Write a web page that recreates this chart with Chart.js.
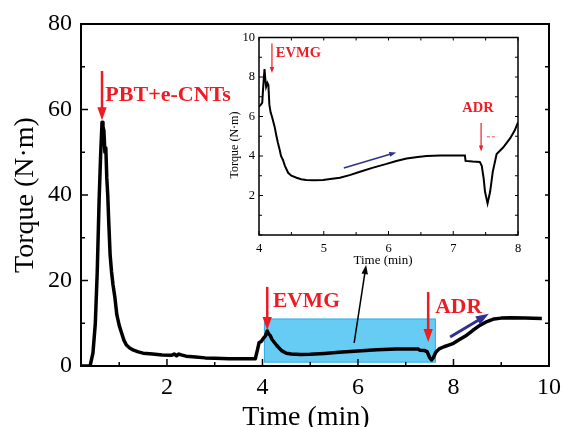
<!DOCTYPE html>
<html>
<head>
<meta charset="utf-8">
<script src="https://cdn.jsdelivr.net/npm/chart.js@4.4.1/dist/chart.umd.min.js"></script>
<style>
  html, body { margin: 0; padding: 0; background: #fff; }
  #wrap { position: relative; width: 568px; height: 427px; }
  #mainChart { position: absolute; left: 0; top: 0; }
  #insetChart { position: absolute; left: 215px; top: 26px; }
</style>
</head>
<body>
<div id="wrap">
  <canvas id="mainChart" width="568" height="427"></canvas>
  <canvas id="insetChart" width="315" height="252"></canvas>
</div>
<script>
const serif = '"Liberation Serif", "Times New Roman", serif';
const red = '#ED1C24';
const navy = '#2E3192';

// main torque curve
const mainTime = [0.2, 0.39, 0.45, 0.5, 0.54, 0.58, 0.61, 0.64, 0.66, 0.68, 0.7, 0.72, 0.74, 0.76, 0.78, 0.81,
  0.84, 0.87, 0.91, 0.95, 1.0, 1.05, 1.1, 1.15, 1.22, 1.3, 1.4, 1.5, 1.7, 1.9, 2.1, 2.15, 2.2, 2.25, 2.3, 2.4,
  2.6, 2.8, 3.0, 3.3, 3.6, 3.85, 3.9, 3.93, 3.97, 4.02, 4.06, 4.1, 4.13, 4.16, 4.2, 4.3, 4.4, 4.5, 4.6, 4.8,
  5.0, 5.3, 5.6, 6.0, 6.4, 6.8, 7.1, 7.25, 7.3, 7.4, 7.45, 7.5, 7.54, 7.58, 7.63, 7.7, 7.8, 7.9, 8.0, 8.1,
  8.25, 8.4, 8.55, 8.7, 8.85, 9.0, 9.2, 9.5, 9.85];
const mainTorque = [0, 0, 3, 10, 22, 39, 49, 57, 56, 55, 50, 51, 44, 40, 34, 26,
  22, 19, 16, 12, 9.5, 7.7, 6, 4.9, 4.2, 3.7, 3.3, 3.0, 2.8, 2.6, 2.5, 2.8, 2.4, 2.8, 2.6, 2.3,
  2.1, 1.9, 1.8, 1.7, 1.7, 1.7, 4.0, 5.5, 5.7, 6.5, 7.0, 8.2, 7.5, 7.2, 6.2, 4.8, 3.6, 3.0, 2.8, 2.7,
  2.75, 2.95, 3.2, 3.5, 3.8, 3.95, 4.0, 4.0, 3.7, 3.6, 3.3, 2.0, 1.4, 2.0, 3.2, 4.0, 4.5, 4.9, 5.3, 6.0,
  7.0, 8.3, 9.5, 10.4, 11.0, 11.2, 11.3, 11.2, 11.1];
const mainXTicks = [1, 2, 3, 4, 5, 6, 7, 8, 9, 10];
const mainYTicks = [0, 10, 20, 30, 40, 50, 60, 70, 80];

// inset: zoom on the EVMG / ADR stage
const insetTime = [4.0, 4.03, 4.05, 4.065, 4.085, 4.1, 4.11, 4.13, 4.145, 4.16, 4.18, 4.2, 4.24, 4.27, 4.29,
  4.32, 4.34, 4.37, 4.4, 4.45, 4.5, 4.58, 4.65, 4.73, 4.85, 4.99, 5.1, 5.25, 5.4, 5.56, 5.75, 5.97, 6.12,
  6.28, 6.45, 6.59, 6.8, 7.0, 7.18, 7.19, 7.3, 7.41, 7.44, 7.47, 7.49, 7.53, 7.57, 7.61, 7.67, 7.77, 7.88,
  7.95, 8.0];
const insetTorque = [6.5, 6.6, 6.7, 7.5, 8.4, 7.8, 7.5, 7.7, 7.6, 6.6, 6.2, 6.0, 5.5, 5.0, 4.7,
  4.3, 4.0, 3.8, 3.5, 3.15, 3.0, 2.9, 2.82, 2.78, 2.77, 2.78, 2.83, 2.9, 3.03, 3.2, 3.4, 3.6, 3.75,
  3.87, 3.95, 4.0, 4.02, 4.03, 4.03, 3.75, 3.72, 3.7, 3.5, 2.85, 2.2, 1.6, 2.2, 3.2, 4.1, 4.43, 4.9,
  5.3, 5.7];
const insetXTicks = [4, 4.5, 5, 5.5, 6, 6.5, 7, 7.5, 8];
const insetYTicks = [0, 1, 2, 3, 4, 5, 6, 7, 8, 9, 10];

// annotations, in data units
const mainBox = {x0: 4.04, x1: 7.62, y0: 0.9, y1: 11};
const mainArrows = [
  {from: [0.64, 69], to: [0.64, 57.5], color: red, width: 2.5, head: 13},
  {from: [4.1, 18.5], to: [4.1, 8.4], color: red, width: 2.5, head: 13},
  {from: [7.47, 17.3], to: [7.47, 5.6], color: red, width: 2.5, head: 13},
  {from: [7.93, 6.8], to: [8.74, 12.2], color: navy, width: 3, head: 13},
  {from: [5.92, 5.4], to: [6.17, 23.6], color: '#000', width: 1.5, head: 9}
];
const mainNotes = [
  {at: [0.71, 63.4], text: 'PBT+e-CNTs', size: 22},
  {at: [4.22, 15], text: 'EVMG', size: 21.5},
  {at: [7.62, 13.8], text: 'ADR', size: 21.5}
];
const insetArrows = [
  {from: [4.2, 9.7], to: [4.2, 8.2], color: red, width: 1.2, head: 6},
  {from: [7.43, 5.67], to: [7.43, 4.23], color: red, width: 1.2, head: 6},
  {from: [5.31, 3.39], to: [6.12, 4.18], color: navy, width: 1.6, head: 7},
  {from: [7.52, 4.97], to: [7.68, 4.97], color: red, width: 0.8, head: 0, dash: [3, 2]}
];
const insetNotes = [
  {at: [4.26, 9.2], text: 'EVMG', size: 14.5},
  {at: [7.14, 6.4], text: 'ADR', size: 14.5}
];

function toXY(xs, ys) {
  return xs.map((t, i) => ({x: t, y: ys[i]}));
}

function drawArrow(ctx, x1, y1, x2, y2, a) {
  const ang = Math.atan2(y2 - y1, x2 - x1);
  const head = a.head || 0;
  ctx.save();
  ctx.strokeStyle = a.color;
  ctx.fillStyle = a.color;
  ctx.lineWidth = a.width;
  if (a.dash) ctx.setLineDash(a.dash);
  ctx.beginPath();
  ctx.moveTo(x1, y1);
  ctx.lineTo(x2 - Math.cos(ang) * head * 0.8, y2 - Math.sin(ang) * head * 0.8);
  ctx.stroke();
  if (head > 0) {
    const hw = head * 0.36;
    const bx = x2 - Math.cos(ang) * head, by = y2 - Math.sin(ang) * head;
    ctx.beginPath();
    ctx.moveTo(x2, y2);
    ctx.lineTo(bx + Math.sin(ang) * hw, by - Math.cos(ang) * hw);
    ctx.lineTo(bx - Math.sin(ang) * hw, by + Math.cos(ang) * hw);
    ctx.closePath();
    ctx.fill();
  }
  ctx.restore();
}

// box, arrows, red labels
const notesPlugin = {
  id: 'notes',
  beforeDatasetsDraw(chart, args, o) {
    if (!o.box) return;
    const {ctx, scales: {x, y}} = chart;
    const l = x.getPixelForValue(o.box.x0), r = x.getPixelForValue(o.box.x1);
    const t = y.getPixelForValue(o.box.y1), b = y.getPixelForValue(o.box.y0);
    ctx.save();
    ctx.fillStyle = '#66CCF3';
    ctx.fillRect(l, t, r - l, b - t);
    ctx.strokeStyle = '#29ABE2';
    ctx.lineWidth = 1;
    ctx.strokeRect(l, t, r - l, b - t);
    ctx.restore();
  },
  afterDatasetsDraw(chart, args, o) {
    const {ctx, scales: {x, y}} = chart;
    (o.arrows || []).forEach(a => {
      drawArrow(ctx, x.getPixelForValue(a.from[0]), y.getPixelForValue(a.from[1]),
        x.getPixelForValue(a.to[0]), y.getPixelForValue(a.to[1]), a);
    });
    ctx.save();
    ctx.fillStyle = red;
    ctx.textAlign = 'left';
    ctx.textBaseline = 'middle';
    (o.notes || []).forEach(n => {
      ctx.font = 'bold ' + n.size + 'px ' + serif;
      ctx.fillText(n.text, x.getPixelForValue(n.at[0]), y.getPixelForValue(n.at[1]));
    });
    ctx.restore();
  }
};

// closed frame with inward ticks + axis titles
const framePlugin = {
  id: 'frame',
  afterDraw(chart, args, o) {
    const {ctx, chartArea: a, scales: {x, y}} = chart;
    const seg = (x1, y1, x2, y2) => { ctx.beginPath(); ctx.moveTo(x1, y1); ctx.lineTo(x2, y2); ctx.stroke(); };
    ctx.save();
    ctx.strokeStyle = '#000';
    ctx.lineWidth = o.lineWidth;
    ctx.strokeRect(a.left, a.top, a.right - a.left, a.bottom - a.top);
    ctx.lineWidth = o.tickWidth;
    x.ticks.forEach(t => {
      const px = x.getPixelForValue(t.value);
      const len = t.label !== '' ? o.major : o.minor;
      seg(px, a.bottom, px, a.bottom - len);
      if (o.top) seg(px, a.top, px, a.top + o.minor);
    });
    y.ticks.forEach(t => {
      const py = y.getPixelForValue(t.value);
      const len = t.label !== '' ? o.major : o.minor;
      seg(a.left, py, a.left + len, py);
      if (o.right) seg(a.right, py, a.right - o.minor, py);
    });
    ctx.fillStyle = '#000';
    ctx.textAlign = 'center';
    ctx.textBaseline = 'alphabetic';
    ctx.font = o.titleSize + 'px ' + serif;
    ctx.fillText(o.xTitle.text, o.xTitle.cx, o.xTitle.base);
    ctx.translate(o.yTitle.base, o.yTitle.cy);
    ctx.rotate(-Math.PI / 2);
    ctx.font = o.yTitleSize + 'px ' + serif;
    ctx.fillText(o.yTitle.text, 0, 0);
    ctx.restore();
  }
};

function axis(min, max, list, keep, font, pad, fixed, horiz) {
  return {
    type: 'linear', min: min, max: max,
    afterBuildTicks: s => { s.ticks = list.map(v => ({value: v})); },
    afterFit: s => { if (horiz) s.height = fixed; else s.width = fixed; },
    grid: {display: false, drawTicks: false},
    border: {display: false},
    ticks: {
      autoSkip: false, maxRotation: 0, padding: pad, color: '#000',
      font: {family: serif, size: font},
      callback: v => keep(v) ? String(v) : ''
    }
  };
}

new Chart(document.getElementById('mainChart'), {
  type: 'line',
  data: {datasets: [{data: toXY(mainTime, mainTorque), borderColor: '#000', borderWidth: 3.5,
    pointRadius: 0, tension: 0, borderJoinStyle: 'round'}]},
  options: {
    responsive: false, animation: false,
    layout: {padding: {top: 24, right: 13, left: 0, bottom: 0}},
    scales: {
      x: axis(0.2, 10, mainXTicks, v => v % 2 === 0, 24, 7, 61, true),
      y: axis(0, 80, mainYTicks, v => v % 20 === 0, 24, 9, 81, false)
    },
    plugins: {
      legend: {display: false}, tooltip: {enabled: false},
      notes: {box: mainBox, arrows: mainArrows, notes: mainNotes},
      frame: {lineWidth: 2, tickWidth: 1.5, major: 7, minor: 4, top: false, right: true,
        titleSize: 28, yTitleSize: 28,
        xTitle: {text: 'Time (min)', cx: 306, base: 425},
        yTitle: {text: 'Torque (N·m)', cy: 195, base: 33}}
    }
  },
  plugins: [notesPlugin, framePlugin]
});

new Chart(document.getElementById('insetChart'), {
  type: 'line',
  data: {datasets: [{data: toXY(insetTime, insetTorque), borderColor: '#000', borderWidth: 2,
    pointRadius: 0, tension: 0}]},
  options: {
    responsive: false, animation: false,
    layout: {padding: {top: 9, right: 12, left: 0, bottom: 0}},
    scales: {
      x: axis(4, 8, insetXTicks, v => Number.isInteger(v), 12.5, 6, 43, true),
      y: axis(0, 10, insetYTicks, v => v > 0 && v % 2 === 0, 12.5, 4, 44, false)
    },
    plugins: {
      legend: {display: false}, tooltip: {enabled: false},
      notes: {arrows: insetArrows, notes: insetNotes},
      frame: {lineWidth: 1.5, tickWidth: 1, major: 4, minor: 3, top: true, right: true,
        titleSize: 13, yTitleSize: 12,
        xTitle: {text: 'Time (min)', cx: 168, base: 238},
        yTitle: {text: 'Torque (N·m)', cy: 119, base: 23}}
    }
  },
  plugins: [notesPlugin, framePlugin]
});
</script>
</body>
</html>
